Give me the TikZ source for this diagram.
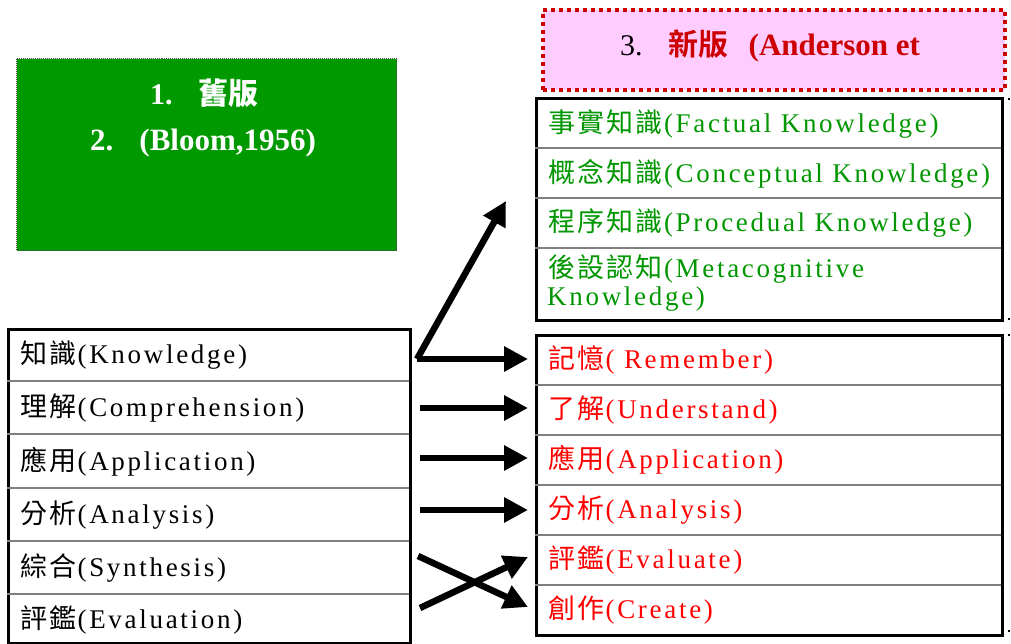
\documentclass[tikz,border=0pt]{standalone}
\usepackage{fontspec}
\usetikzlibrary{arrows.meta}
\setmainfont{Liberation Serif}
\newfontfamily\latfont[LetterSpace=10]{Liberation Serif}
\newfontfamily\cjkfont{Noto Sans CJK TC}
\newfontfamily\cjkbfont{Noto Sans CJK TC Bold}
\definecolor{boxgreen}{RGB}{0,153,0}
\definecolor{txtgreen}{RGB}{0,150,0}
\definecolor{txtred}{RGB}{255,0,0}
\definecolor{hdred}{RGB}{204,0,0}
\definecolor{pinkfill}{RGB}{255,204,255}
\newlength\cellw
\setlength\cellw{14.6pt}
% CJK characters, each in a double cell
\def\CJ#1{\CJx#1\relax}
\def\CJx#1{\ifx#1\relax\else\makebox[2\cellw][c]{\cjkfont\fontsize{27}{27}\selectfont #1}\expandafter\CJx\fi}
\newcommand\Lt[1]{{\latfont\fontsize{27}{27}\selectfont #1}}
\newcommand\Rw[2]{\CJ{#1}\Lt{#2}}
\begin{document}
\begin{tikzpicture}[x=1pt,y=-1pt,
  tbl/.style={draw=black,line width=3pt,anchor=north west,inner sep=0pt},
  sepline/.style={draw=black!50,line width=1.2pt},
  entry/.style={anchor=west,inner sep=0pt,text=#1},
  arr/.style={line width=6.5pt,-{Triangle[length=24pt,width=24pt]}},
  dotmark/.style={fill=black,inner sep=0pt,minimum size=2.5pt}]
\useasboundingbox (0,0) rectangle (1011,643);
\fill[white] (0,0) rectangle (1011,643);
% header box
\node[draw=hdred,line width=4pt,dash pattern=on 4pt off 4pt,fill=pinkfill,
  anchor=north west,minimum width=462pt,minimum height=80pt,inner sep=0pt] (H) at (541,8) {};
\node[anchor=west,inner sep=0pt] (Ht) at (620,46) {\fontsize{30}{30}\selectfont 3.\hspace{26pt}{\color{hdred}\cjkbfont 新版\hspace{20pt}\bfseries\rmfamily\fontsize{31}{31}\selectfont (Anderson et}};
% green box
\node[draw=black!70,line width=1pt,dash pattern=on 1pt off 1pt,fill=boxgreen,
  anchor=north west,minimum width=380pt,minimum height=192pt,inner sep=0pt] (G) at (16,58) {};
\node[anchor=west,inner sep=0pt,text=white] (G1) at (150,93) {\bfseries\fontsize{30}{30}\selectfont 1.\hspace{26pt}{\cjkbfont\fontsize{30}{30}\selectfont 舊版}};
\node[anchor=west,inner sep=0pt,text=white] (G2) at (90,143) {\bfseries\fontsize{31}{31}\selectfont 2.\hspace{26pt}(Bloom,1956)};
% left table
\node[tbl,minimum width=402pt,minimum height=314pt] (L) at (7,328) {};
\foreach \yy in {381,434,488,541,594} \draw[sepline] (7,\yy) -- (409,\yy);
\node[entry=black] (l1) at (19,355) {\Rw{知識}{(Knowledge)}};
\node[entry=black] (l2) at (19,408) {\Rw{理解}{(Comprehension)}};
\node[entry=black] (l3) at (19,462) {\Rw{應用}{(Application)}};
\node[entry=black] (l4) at (19,515) {\Rw{分析}{(Analysis)}};
\node[entry=black] (l5) at (19,568) {\Rw{綜合}{(Synthesis)}};
\node[entry=black] (l6) at (19,620) {\Rw{評鑑}{(Evaluation)}};
% upper right table
\node[tbl,minimum width=466pt,minimum height=222pt] (U) at (535,97) {};
\foreach \yy in {148,198,248} \draw[sepline] (535,\yy) -- (1001,\yy);
\node[entry=txtgreen] (u1) at (547,124) {\Rw{事實知識}{(Factual Knowledge)}};
\node[entry=txtgreen] (u2) at (547,174) {\Rw{概念知識}{(Conceptual Knowledge)}};
\node[entry=txtgreen] (u3) at (547,223) {\Rw{程序知識}{(Procedual Knowledge)}};
\node[entry=txtgreen] (u4) at (547,269) {\Rw{後設認知}{(Metacognitive}};
\node[entry=txtgreen] (u5) at (547,299) {\Lt{Knowledge)}};
% lower right table
\node[tbl,minimum width=466pt,minimum height=300pt] (R) at (535,334) {};
\foreach \yy in {385,435,485,535,585} \draw[sepline] (535,\yy) -- (1001,\yy);
\node[entry=txtred] (r1) at (547,360) {\Rw{記憶}{( Remember)}};
\node[entry=txtred] (r2) at (547,410) {\Rw{了解}{(Understand)}};
\node[entry=txtred] (r3) at (547,460) {\Rw{應用}{(Application)}};
\node[entry=txtred] (r4) at (547,510) {\Rw{分析}{(Analysis)}};
\node[entry=txtred] (r5) at (547,560) {\Rw{評鑑}{(Evaluate)}};
\node[entry=txtred] (r6) at (547,610) {\Rw{創作}{(Create)}};
% small marks
\node[dotmark] (m1) at (1009,99) {};
\node[dotmark] (m2) at (1009,319) {};
\node[dotmark] (m3) at (1009,335) {};
\node[dotmark] (m4) at (1009,631) {};
% arrow coordinates
\coordinate (k0) at (417,359);
\coordinate (kup) at (506,201);
\coordinate (kr) at (528,359);
\coordinate (c0) at (420,408); \coordinate (c1) at (528,408);
\coordinate (a0) at (420,458); \coordinate (a1) at (528,458);
\coordinate (n0) at (420,510); \coordinate (n1) at (528,510);
\coordinate (s0) at (418,556); \coordinate (s1) at (528,607);
\coordinate (e0) at (420,608); \coordinate (e1) at (528,557);
\draw[arr] (k0) -- (kup);
\draw[arr] (k0) -- (kr);
\draw[arr] (c0) -- (c1);
\draw[arr] (a0) -- (a1);
\draw[arr] (n0) -- (n1);
\draw[arr] (s0) -- (s1);
\draw[arr] (e0) -- (e1);
\end{tikzpicture}
\end{document}
